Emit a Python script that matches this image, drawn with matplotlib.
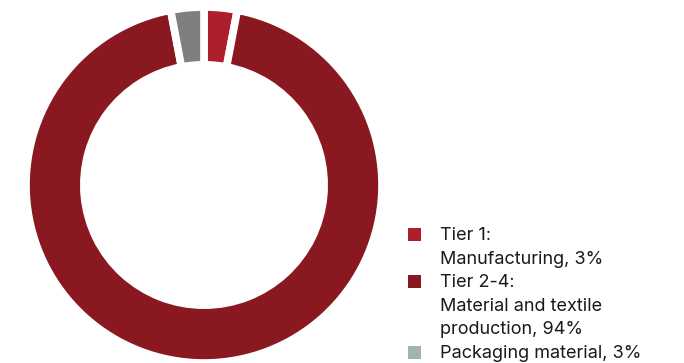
import matplotlib
matplotlib.use("Agg")
import matplotlib.pyplot as plt
from matplotlib.patches import Rectangle

# Emissions share by supply-chain stage
labels = ["Tier 1:\nManufacturing, 3%",
          "Tier 2-4:\nMaterial and textile\nproduction, 94%",
          "Packaging material, 3%"]
shares = [3, 94, 3]
slice_colors = ["#ae1f2e", "#8a1820", "#7e807f"]
legend_colors = ["#ae1f2e", "#8a1820", "#a3b5aa"]

W, H = 684, 363
fig = plt.figure(figsize=(W / 100, H / 100), dpi=100)
fig.patch.set_facecolor("white")

# Donut (axes a bit larger than the visible ring to offset the white edge)
cx, cy, r = 204, 185, 178
ax = fig.add_axes([(cx - r) / W, (H - cy - r) / H, 2 * r / W, 2 * r / H])
ax.pie(shares, colors=slice_colors, startangle=90, counterclock=False,
       radius=1.0,
       wedgeprops=dict(width=0.325, edgecolor="white", linewidth=5.5))
ax.set_xlim(-1, 1)
ax.set_ylim(-1, 1)
ax.set_aspect("equal")
ax.axis("off")

# Legend drawn line by line
text_x = 440
sq_x, sq = 408, 13
base0, step = 240, 23.6
row = 0
for label, color in zip(labels, legend_colors):
    lines = label.split("\n")
    b = base0 + step * row
    fig.patches.append(Rectangle((sq_x / W, (H - b - 1) / H), sq / W, sq / H,
                                 transform=fig.transFigure, facecolor=color,
                                 edgecolor="none"))
    for i, line in enumerate(lines):
        yb = base0 + step * (row + i)
        fig.text(text_x / W, (H - yb) / H, line, family="Inter",
                 fontsize=13, color="#1a1a1a", va="baseline", ha="left")
    row += len(lines)

fig.savefig("out.png", dpi=100, facecolor="white")
